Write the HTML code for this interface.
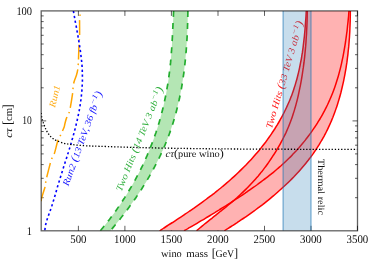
<!DOCTYPE html>
<html lang="en">
<head>
<meta charset="utf-8">
<title>wino mass vs c&#964;</title>
<style>html,body{margin:0;padding:0;background:#fff}svg{display:block;will-change:transform}</style>
</head>
<body>
<svg width="374" height="263" viewBox="0 0 374 263" text-rendering="geometricPrecision">
<defs><clipPath id="clip"><rect x="41.2" y="10.9" width="316.3" height="219.9"/></clipPath></defs>
<filter id="soft" x="0" y="0" width="100%" height="100%" filterUnits="userSpaceOnUse" color-interpolation-filters="sRGB"><feGaussianBlur stdDeviation="0.4"/></filter>
<g filter="url(#soft)">
<rect width="374" height="263" fill="#fff"/>
<path d="M78.4 230.8v-5M78.4 10.9v5M124.9 230.8v-5M124.9 10.9v5M171.4 230.8v-5M171.4 10.9v5M218.0 230.8v-5M218.0 10.9v5M264.5 230.8v-5M264.5 10.9v5M311.0 230.8v-5M311.0 10.9v5M357.5 230.8v-5M357.5 10.9v5M41.2 197.7h2.5M357.5 197.7h-2.5M41.2 178.3h2.5M357.5 178.3h-2.5M41.2 164.6h2.5M357.5 164.6h-2.5M41.2 153.9h2.5M357.5 153.9h-2.5M41.2 145.2h2.5M357.5 145.2h-2.5M41.2 137.9h2.5M357.5 137.9h-2.5M41.2 131.5h2.5M357.5 131.5h-2.5M41.2 125.9h2.5M357.5 125.9h-2.5M41.2 120.9h5.0M357.5 120.9h-5.0M41.2 87.8h2.5M357.5 87.8h-2.5M41.2 68.4h2.5M357.5 68.4h-2.5M41.2 54.7h2.5M357.5 54.7h-2.5M41.2 44.0h2.5M357.5 44.0h-2.5M41.2 35.3h2.5M357.5 35.3h-2.5M41.2 27.9h2.5M357.5 27.9h-2.5M41.2 21.6h2.5M357.5 21.6h-2.5M41.2 15.9h2.5M357.5 15.9h-2.5" stroke="#000" stroke-width="0.9" stroke-opacity="0.7" fill="none"/>
<g clip-path="url(#clip)">
<path d="M173.6 10.9C173.6 11.8 173.4 14.3 173.4 16.0C173.3 17.8 173.2 19.5 173.1 21.2C173.0 22.9 173.0 24.6 172.9 26.4C172.8 28.1 172.7 29.8 172.6 31.5C172.6 33.2 172.5 34.9 172.4 36.7C172.3 38.4 172.2 40.1 172.1 41.8C172.0 43.5 171.9 45.2 171.8 47.0C171.7 48.7 171.6 50.4 171.4 52.1C171.3 53.8 171.2 55.5 171.0 57.2C170.9 59.0 170.7 60.7 170.6 62.4C170.4 64.1 170.2 65.8 170.0 67.5C169.8 69.2 169.6 70.9 169.4 72.6C169.2 74.3 169.0 76.0 168.7 77.7C168.5 79.4 168.2 81.1 168.0 82.8C167.7 84.5 167.4 86.2 167.1 87.9C166.8 89.6 166.5 91.3 166.2 92.9C165.9 94.6 165.6 96.3 165.2 98.0C164.9 99.7 164.5 101.3 164.1 103.0C163.8 104.7 163.4 106.3 163.0 108.0C162.6 109.7 162.2 111.3 161.7 113.0C161.3 114.7 160.8 116.3 160.4 118.0C159.9 119.6 159.5 121.3 159.0 122.9C158.5 124.5 158.0 126.2 157.5 127.8C156.9 129.4 156.4 131.1 155.9 132.7C155.3 134.3 154.7 135.9 154.2 137.6C153.6 139.2 153.0 140.8 152.4 142.4C151.8 144.0 151.2 145.6 150.5 147.2C149.9 148.8 149.3 150.4 148.6 152.0C147.9 153.5 147.3 155.1 146.6 156.7C145.9 158.3 145.2 159.8 144.5 161.4C143.7 163.0 143.0 164.5 142.3 166.1C141.5 167.6 140.8 169.2 140.0 170.7C139.2 172.2 138.4 173.8 137.6 175.3C136.8 176.8 136.0 178.3 135.2 179.8C134.4 181.3 133.5 182.8 132.7 184.3C131.8 185.8 131.0 187.3 130.1 188.8C129.2 190.3 128.3 191.8 127.4 193.2C126.5 194.7 125.6 196.1 124.7 197.6C123.8 199.0 122.9 200.5 121.9 201.9C121.0 203.4 120.0 204.8 119.0 206.2C118.1 207.6 117.1 209.0 116.1 210.4C115.1 211.8 114.1 213.2 113.1 214.6C112.0 216.0 111.0 217.4 110.0 218.7C108.9 220.1 107.9 221.5 106.8 222.8C105.7 224.2 104.7 225.5 103.6 226.8C102.5 228.2 100.8 230.1 100.3 230.8L110.3 230.8C110.9 230.1 112.5 228.2 113.6 226.9C114.7 225.6 115.8 224.3 116.9 222.9C118.0 221.6 119.1 220.2 120.2 218.9C121.2 217.5 122.3 216.2 123.4 214.8C124.4 213.4 125.5 212.1 126.5 210.7C127.6 209.3 128.6 207.9 129.6 206.5C130.7 205.1 131.7 203.7 132.7 202.3C133.7 200.8 134.7 199.4 135.7 198.0C136.6 196.5 137.6 195.1 138.6 193.6C139.6 192.2 140.5 190.7 141.5 189.3C142.4 187.8 143.3 186.3 144.2 184.8C145.2 183.4 146.1 181.9 147.0 180.4C147.9 178.9 148.7 177.4 149.6 175.9C150.5 174.3 151.3 172.8 152.2 171.3C153.0 169.8 153.9 168.2 154.7 166.7C155.5 165.2 156.3 163.6 157.1 162.1C157.8 160.5 158.6 159.0 159.4 157.4C160.1 155.8 160.9 154.3 161.6 152.7C162.3 151.1 163.0 149.5 163.7 147.9C164.4 146.4 165.1 144.8 165.7 143.2C166.4 141.6 167.0 140.0 167.7 138.4C168.3 136.7 168.9 135.1 169.5 133.5C170.1 131.9 170.6 130.3 171.2 128.6C171.7 127.0 172.3 125.4 172.8 123.7C173.3 122.1 173.8 120.4 174.3 118.8C174.8 117.1 175.3 115.5 175.7 113.8C176.2 112.2 176.6 110.5 177.0 108.8C177.4 107.2 177.8 105.5 178.2 103.8C178.6 102.2 179.0 100.5 179.4 98.8C179.7 97.1 180.1 95.4 180.4 93.7C180.7 92.1 181.1 90.4 181.4 88.7C181.7 87.0 182.0 85.3 182.2 83.6C182.5 81.9 182.8 80.2 183.0 78.5C183.3 76.8 183.5 75.0 183.8 73.3C184.0 71.6 184.2 69.9 184.4 68.2C184.6 66.5 184.8 64.7 185.0 63.0C185.2 61.3 185.4 59.6 185.5 57.9C185.7 56.1 185.9 54.4 186.0 52.7C186.2 50.9 186.3 49.2 186.4 47.5C186.5 45.7 186.7 44.0 186.8 42.3C186.9 40.5 187.0 38.8 187.1 37.0C187.2 35.3 187.2 33.6 187.3 31.8C187.4 30.1 187.5 28.3 187.5 26.6C187.6 24.9 187.6 23.1 187.7 21.4C187.7 19.6 187.8 17.9 187.8 16.1C187.8 14.4 187.9 11.8 187.9 10.9Z" fill="#b4e6b4"/>
<path d="M173.6 10.9C173.6 11.8 173.4 14.3 173.4 16.0C173.3 17.8 173.2 19.5 173.1 21.2C173.0 22.9 173.0 24.6 172.9 26.4C172.8 28.1 172.7 29.8 172.6 31.5C172.6 33.2 172.5 34.9 172.4 36.7C172.3 38.4 172.2 40.1 172.1 41.8C172.0 43.5 171.9 45.2 171.8 47.0C171.7 48.7 171.6 50.4 171.4 52.1C171.3 53.8 171.2 55.5 171.0 57.2C170.9 59.0 170.7 60.7 170.6 62.4C170.4 64.1 170.2 65.8 170.0 67.5C169.8 69.2 169.6 70.9 169.4 72.6C169.2 74.3 169.0 76.0 168.7 77.7C168.5 79.4 168.2 81.1 168.0 82.8C167.7 84.5 167.4 86.2 167.1 87.9C166.8 89.6 166.5 91.3 166.2 92.9C165.9 94.6 165.6 96.3 165.2 98.0C164.9 99.7 164.5 101.3 164.1 103.0C163.8 104.7 163.4 106.3 163.0 108.0C162.6 109.7 162.2 111.3 161.7 113.0C161.3 114.7 160.8 116.3 160.4 118.0C159.9 119.6 159.5 121.3 159.0 122.9C158.5 124.5 158.0 126.2 157.5 127.8C156.9 129.4 156.4 131.1 155.9 132.7C155.3 134.3 154.7 135.9 154.2 137.6C153.6 139.2 153.0 140.8 152.4 142.4C151.8 144.0 151.2 145.6 150.5 147.2C149.9 148.8 149.3 150.4 148.6 152.0C147.9 153.5 147.3 155.1 146.6 156.7C145.9 158.3 145.2 159.8 144.5 161.4C143.7 163.0 143.0 164.5 142.3 166.1C141.5 167.6 140.8 169.2 140.0 170.7C139.2 172.2 138.4 173.8 137.6 175.3C136.8 176.8 136.0 178.3 135.2 179.8C134.4 181.3 133.5 182.8 132.7 184.3C131.8 185.8 131.0 187.3 130.1 188.8C129.2 190.3 128.3 191.8 127.4 193.2C126.5 194.7 125.6 196.1 124.7 197.6C123.8 199.0 122.9 200.5 121.9 201.9C121.0 203.4 120.0 204.8 119.0 206.2C118.1 207.6 117.1 209.0 116.1 210.4C115.1 211.8 114.1 213.2 113.1 214.6C112.0 216.0 111.0 217.4 110.0 218.7C108.9 220.1 107.9 221.5 106.8 222.8C105.7 224.2 104.7 225.5 103.6 226.8C102.5 228.2 100.8 230.1 100.3 230.8" fill="none" stroke="#22ad2e" stroke-width="1.7" stroke-dasharray="6 6.15"/>
<path d="M187.9 10.9C187.9 11.8 187.8 14.4 187.8 16.1C187.8 17.9 187.7 19.6 187.7 21.4C187.6 23.1 187.6 24.9 187.5 26.6C187.5 28.3 187.4 30.1 187.3 31.8C187.2 33.6 187.2 35.3 187.1 37.0C187.0 38.8 186.9 40.5 186.8 42.3C186.7 44.0 186.5 45.7 186.4 47.5C186.3 49.2 186.2 50.9 186.0 52.7C185.9 54.4 185.7 56.1 185.5 57.9C185.4 59.6 185.2 61.3 185.0 63.0C184.8 64.7 184.6 66.5 184.4 68.2C184.2 69.9 184.0 71.6 183.8 73.3C183.5 75.0 183.3 76.8 183.0 78.5C182.8 80.2 182.5 81.9 182.2 83.6C182.0 85.3 181.7 87.0 181.4 88.7C181.1 90.4 180.7 92.1 180.4 93.7C180.1 95.4 179.7 97.1 179.4 98.8C179.0 100.5 178.6 102.2 178.2 103.8C177.8 105.5 177.4 107.2 177.0 108.8C176.6 110.5 176.2 112.2 175.7 113.8C175.3 115.5 174.8 117.1 174.3 118.8C173.8 120.4 173.3 122.1 172.8 123.7C172.3 125.4 171.7 127.0 171.2 128.6C170.6 130.3 170.1 131.9 169.5 133.5C168.9 135.1 168.3 136.7 167.7 138.4C167.0 140.0 166.4 141.6 165.7 143.2C165.1 144.8 164.4 146.4 163.7 147.9C163.0 149.5 162.3 151.1 161.6 152.7C160.9 154.3 160.1 155.8 159.4 157.4C158.6 159.0 157.8 160.5 157.1 162.1C156.3 163.6 155.5 165.2 154.7 166.7C153.9 168.2 153.0 169.8 152.2 171.3C151.3 172.8 150.5 174.3 149.6 175.9C148.7 177.4 147.9 178.9 147.0 180.4C146.1 181.9 145.2 183.4 144.2 184.8C143.3 186.3 142.4 187.8 141.5 189.3C140.5 190.7 139.6 192.2 138.6 193.6C137.6 195.1 136.6 196.5 135.7 198.0C134.7 199.4 133.7 200.8 132.7 202.3C131.7 203.7 130.7 205.1 129.6 206.5C128.6 207.9 127.6 209.3 126.5 210.7C125.5 212.1 124.4 213.4 123.4 214.8C122.3 216.2 121.2 217.5 120.2 218.9C119.1 220.2 118.0 221.6 116.9 222.9C115.8 224.3 114.7 225.6 113.6 226.9C112.5 228.2 110.9 230.1 110.3 230.8" fill="none" stroke="#22ad2e" stroke-width="1.7" stroke-dasharray="6 6.15"/>
<path d="M159.6 230.8C160.3 230.3 162.5 229.0 163.9 228.0C165.3 227.1 166.8 226.2 168.2 225.2C169.7 224.3 171.1 223.4 172.5 222.5C174.0 221.5 175.4 220.6 176.8 219.6C178.3 218.7 179.7 217.7 181.1 216.8C182.6 215.8 184.0 214.9 185.4 213.9C186.9 213.0 188.3 212.0 189.7 211.0C191.1 210.1 192.5 209.1 194.0 208.1C195.4 207.1 196.8 206.1 198.2 205.1C199.6 204.1 201.0 203.1 202.4 202.1C203.8 201.1 205.2 200.1 206.6 199.0C207.9 198.0 209.3 197.0 210.7 195.9C212.1 194.9 213.4 193.8 214.8 192.8C216.1 191.7 217.5 190.6 218.8 189.5C220.2 188.5 221.5 187.4 222.8 186.3C224.2 185.2 225.5 184.0 226.8 182.9C228.1 181.8 229.4 180.7 230.7 179.5C232.0 178.4 233.3 177.2 234.5 176.1C235.8 174.9 237.1 173.7 238.3 172.5C239.6 171.3 240.8 170.1 242.0 168.9C243.3 167.7 244.5 166.5 245.7 165.3C246.9 164.0 248.1 162.8 249.2 161.5C250.4 160.3 251.6 159.0 252.7 157.7C253.9 156.4 255.0 155.1 256.1 153.8C257.3 152.5 258.4 151.2 259.5 149.9C260.6 148.5 261.6 147.2 262.7 145.8C263.8 144.5 264.8 143.1 265.9 141.7C266.9 140.3 267.9 138.9 268.9 137.5C269.9 136.1 270.9 134.7 271.8 133.3C272.8 131.8 273.8 130.4 274.7 129.0C275.6 127.5 276.5 126.0 277.4 124.6C278.3 123.1 279.2 121.6 280.0 120.1C280.8 118.6 281.7 117.1 282.5 115.6C283.3 114.1 284.1 112.5 284.8 111.0C285.6 109.5 286.3 107.9 287.0 106.4C287.7 104.8 288.4 103.3 289.1 101.7C289.8 100.1 290.4 98.5 291.0 96.9C291.7 95.4 292.2 93.8 292.8 92.2C293.4 90.6 293.9 88.9 294.4 87.3C295.0 85.7 295.5 84.1 295.9 82.4C296.4 80.8 296.9 79.2 297.3 77.5C297.7 75.9 298.1 74.2 298.5 72.6C298.9 70.9 299.3 69.2 299.6 67.6C300.0 65.9 300.3 64.2 300.6 62.5C301.0 60.9 301.3 59.2 301.6 57.5C301.8 55.8 302.1 54.1 302.4 52.4C302.6 50.7 302.9 49.0 303.1 47.3C303.3 45.6 303.5 43.8 303.7 42.1C303.9 40.4 304.1 38.7 304.3 37.0C304.5 35.2 304.6 33.5 304.8 31.8C305.0 30.1 305.1 28.3 305.2 26.6C305.4 24.8 305.5 23.1 305.6 21.4C305.8 19.6 305.9 17.9 306.0 16.1C306.1 14.4 306.2 11.8 306.3 10.9L349.0 10.9C348.9 11.7 348.7 14.3 348.6 16.0C348.4 17.7 348.2 19.4 348.1 21.1C347.9 22.8 347.7 24.5 347.5 26.2C347.4 27.9 347.2 29.6 347.0 31.3C346.7 33.0 346.5 34.7 346.3 36.4C346.1 38.1 345.8 39.8 345.6 41.5C345.3 43.2 345.1 44.9 344.8 46.5C344.5 48.2 344.2 49.9 343.9 51.6C343.6 53.3 343.3 55.0 343.0 56.6C342.6 58.3 342.3 60.0 341.9 61.6C341.6 63.3 341.2 65.0 340.8 66.6C340.4 68.3 340.0 69.9 339.5 71.6C339.1 73.2 338.7 74.8 338.2 76.5C337.7 78.1 337.2 79.7 336.7 81.3C336.2 83.0 335.7 84.6 335.1 86.2C334.6 87.8 334.0 89.4 333.4 90.9C332.8 92.5 332.2 94.1 331.5 95.7C330.9 97.3 330.2 98.8 329.5 100.4C328.8 101.9 328.1 103.5 327.4 105.0C326.6 106.5 325.9 108.1 325.1 109.6C324.3 111.1 323.5 112.6 322.7 114.1C321.9 115.6 321.0 117.0 320.2 118.5C319.3 120.0 318.4 121.4 317.5 122.9C316.6 124.3 315.7 125.8 314.7 127.2C313.8 128.6 312.8 130.0 311.8 131.4C310.9 132.8 309.9 134.2 308.8 135.5C307.8 136.9 306.8 138.3 305.7 139.6C304.7 140.9 303.6 142.3 302.5 143.6C301.4 144.9 300.3 146.2 299.2 147.5C298.1 148.7 296.9 150.0 295.8 151.3C294.6 152.5 293.5 153.7 292.3 154.9C291.1 156.2 289.9 157.4 288.7 158.5C287.5 159.7 286.3 160.9 285.1 162.0C283.8 163.2 282.6 164.3 281.3 165.5C280.0 166.6 278.8 167.7 277.5 168.8C276.2 169.9 274.9 171.0 273.6 172.1C272.3 173.1 271.0 174.2 269.7 175.2C268.3 176.3 267.0 177.3 265.6 178.4C264.3 179.4 262.9 180.4 261.6 181.4C260.2 182.5 258.8 183.5 257.5 184.5C256.1 185.5 254.7 186.5 253.3 187.4C251.9 188.4 250.5 189.4 249.1 190.4C247.7 191.4 246.3 192.3 244.9 193.3C243.4 194.3 242.0 195.2 240.6 196.2C239.2 197.1 237.7 198.1 236.3 199.0C234.8 200.0 233.4 200.9 232.0 201.8C230.5 202.8 229.1 203.7 227.6 204.6C226.2 205.6 224.7 206.5 223.2 207.4C221.8 208.3 220.3 209.2 218.9 210.1C217.4 211.0 215.9 211.9 214.5 212.8C213.0 213.7 211.6 214.6 210.1 215.5C208.6 216.4 207.2 217.3 205.7 218.1C204.3 219.0 202.8 219.9 201.3 220.7C199.9 221.6 198.4 222.5 197.0 223.3C195.5 224.2 194.1 225.0 192.6 225.8C191.2 226.7 189.7 227.5 188.3 228.3C186.9 229.2 184.7 230.4 184.0 230.8Z" fill="#ffb2b2"/>
<path d="M196.5 230.8C197.1 230.3 199.1 228.6 200.4 227.5C201.7 226.4 203.0 225.4 204.3 224.3C205.6 223.2 207.0 222.1 208.3 221.1C209.7 220.0 211.0 218.9 212.4 217.8C213.7 216.7 215.1 215.7 216.4 214.6C217.8 213.5 219.2 212.4 220.5 211.3C221.9 210.2 223.2 209.2 224.6 208.1C225.9 207.0 227.3 205.9 228.6 204.7C230.0 203.6 231.3 202.5 232.6 201.4C233.9 200.3 235.3 199.1 236.6 198.0C237.9 196.8 239.2 195.7 240.4 194.5C241.7 193.3 243.0 192.1 244.2 190.9C245.4 189.7 246.7 188.5 247.9 187.3C249.1 186.1 250.3 184.8 251.4 183.6C252.6 182.3 253.8 181.1 254.9 179.8C256.0 178.5 257.2 177.2 258.3 175.9C259.3 174.6 260.4 173.3 261.5 171.9C262.6 170.6 263.6 169.2 264.6 167.9C265.7 166.5 266.7 165.1 267.7 163.7C268.7 162.3 269.6 160.9 270.6 159.5C271.6 158.1 272.5 156.7 273.4 155.2C274.4 153.8 275.3 152.3 276.2 150.8C277.1 149.4 278.0 147.9 278.8 146.4C279.7 144.9 280.5 143.4 281.3 141.8C282.2 140.3 283.0 138.8 283.7 137.2C284.5 135.7 285.3 134.1 286.0 132.6C286.7 131.0 287.4 129.4 288.1 127.8C288.8 126.3 289.4 124.7 290.0 123.1C290.6 121.4 291.2 119.8 291.8 118.2C292.4 116.6 292.9 115.0 293.4 113.3C294.0 111.7 294.5 110.0 294.9 108.4C295.4 106.7 295.9 105.1 296.3 103.4C296.8 101.7 297.2 100.1 297.6 98.4C298.0 96.7 298.4 95.0 298.7 93.3C299.1 91.6 299.5 89.9 299.8 88.2C300.2 86.5 300.5 84.8 300.8 83.1C301.1 81.4 301.4 79.7 301.7 78.0C302.0 76.3 302.3 74.6 302.5 72.8C302.8 71.1 303.0 69.4 303.3 67.7C303.5 66.0 303.7 64.2 304.0 62.5C304.2 60.8 304.4 59.0 304.6 57.3C304.8 55.6 304.9 53.8 305.1 52.1C305.3 50.4 305.4 48.7 305.6 46.9C305.7 45.2 305.9 43.5 306.0 41.7C306.1 40.0 306.2 38.3 306.3 36.6C306.5 34.8 306.6 33.1 306.6 31.4C306.7 29.7 306.8 27.9 306.9 26.2C307.0 24.5 307.0 22.8 307.1 21.1C307.1 19.4 307.2 17.7 307.2 16.0C307.2 14.3 307.3 11.7 307.3 10.9L350.3 10.9C350.3 11.7 350.3 14.3 350.3 16.0C350.2 17.7 350.2 19.4 350.2 21.1C350.1 22.8 350.1 24.5 350.0 26.2C349.9 27.9 349.9 29.7 349.8 31.4C349.7 33.1 349.6 34.8 349.5 36.5C349.4 38.3 349.2 40.0 349.1 41.7C349.0 43.5 348.8 45.2 348.7 46.9C348.5 48.6 348.3 50.4 348.1 52.1C348.0 53.8 347.8 55.5 347.5 57.3C347.3 59.0 347.1 60.7 346.9 62.4C346.6 64.2 346.3 65.9 346.1 67.6C345.8 69.3 345.5 71.0 345.2 72.7C344.9 74.4 344.6 76.2 344.2 77.9C343.9 79.6 343.6 81.3 343.2 82.9C342.8 84.6 342.4 86.3 342.0 88.0C341.6 89.7 341.2 91.4 340.8 93.0C340.3 94.7 339.9 96.4 339.4 98.0C338.9 99.7 338.4 101.3 337.9 103.0C337.4 104.6 336.9 106.3 336.3 107.9C335.8 109.5 335.2 111.1 334.6 112.7C334.0 114.3 333.4 115.9 332.8 117.5C332.1 119.1 331.5 120.7 330.8 122.3C330.1 123.8 329.4 125.4 328.7 126.9C328.0 128.5 327.3 130.0 326.5 131.5C325.7 133.0 324.9 134.6 324.1 136.1C323.3 137.5 322.5 139.0 321.6 140.5C320.8 142.0 319.9 143.4 319.0 144.9C318.1 146.3 317.2 147.7 316.3 149.1C315.3 150.6 314.3 152.0 313.4 153.4C312.4 154.7 311.4 156.1 310.4 157.5C309.3 158.8 308.3 160.2 307.2 161.5C306.2 162.9 305.1 164.2 304.0 165.5C302.9 166.8 301.8 168.1 300.6 169.4C299.5 170.7 298.4 172.0 297.2 173.2C296.0 174.5 294.8 175.8 293.7 177.0C292.5 178.2 291.2 179.5 290.0 180.7C288.8 181.9 287.6 183.1 286.3 184.3C285.1 185.5 283.8 186.7 282.5 187.8C281.2 189.0 279.9 190.2 278.6 191.3C277.3 192.5 276.0 193.6 274.7 194.7C273.4 195.8 272.1 197.0 270.7 198.1C269.4 199.2 268.0 200.3 266.7 201.3C265.3 202.4 263.9 203.5 262.6 204.6C261.2 205.6 259.8 206.7 258.4 207.7C257.0 208.7 255.6 209.8 254.2 210.8C252.8 211.8 251.4 212.8 250.0 213.8C248.6 214.8 247.2 215.8 245.8 216.8C244.4 217.8 242.9 218.7 241.5 219.7C240.1 220.7 238.6 221.6 237.2 222.6C235.8 223.5 234.3 224.4 232.9 225.4C231.5 226.3 230.0 227.2 228.6 228.1C227.2 229.0 225.0 230.4 224.3 230.8Z" fill="#ffb2b2"/>
<path d="M159.6 230.8C160.3 230.3 162.5 229.0 163.9 228.0C165.3 227.1 166.8 226.2 168.2 225.2C169.7 224.3 171.1 223.4 172.5 222.5C174.0 221.5 175.4 220.6 176.8 219.6C178.3 218.7 179.7 217.7 181.1 216.8C182.6 215.8 184.0 214.9 185.4 213.9C186.9 213.0 188.3 212.0 189.7 211.0C191.1 210.1 192.5 209.1 194.0 208.1C195.4 207.1 196.8 206.1 198.2 205.1C199.6 204.1 201.0 203.1 202.4 202.1C203.8 201.1 205.2 200.1 206.6 199.0C207.9 198.0 209.3 197.0 210.7 195.9C212.1 194.9 213.4 193.8 214.8 192.8C216.1 191.7 217.5 190.6 218.8 189.5C220.2 188.5 221.5 187.4 222.8 186.3C224.2 185.2 225.5 184.0 226.8 182.9C228.1 181.8 229.4 180.7 230.7 179.5C232.0 178.4 233.3 177.2 234.5 176.1C235.8 174.9 237.1 173.7 238.3 172.5C239.6 171.3 240.8 170.1 242.0 168.9C243.3 167.7 244.5 166.5 245.7 165.3C246.9 164.0 248.1 162.8 249.2 161.5C250.4 160.3 251.6 159.0 252.7 157.7C253.9 156.4 255.0 155.1 256.1 153.8C257.3 152.5 258.4 151.2 259.5 149.9C260.6 148.5 261.6 147.2 262.7 145.8C263.8 144.5 264.8 143.1 265.9 141.7C266.9 140.3 267.9 138.9 268.9 137.5C269.9 136.1 270.9 134.7 271.8 133.3C272.8 131.8 273.8 130.4 274.7 129.0C275.6 127.5 276.5 126.0 277.4 124.6C278.3 123.1 279.2 121.6 280.0 120.1C280.8 118.6 281.7 117.1 282.5 115.6C283.3 114.1 284.1 112.5 284.8 111.0C285.6 109.5 286.3 107.9 287.0 106.4C287.7 104.8 288.4 103.3 289.1 101.7C289.8 100.1 290.4 98.5 291.0 96.9C291.7 95.4 292.2 93.8 292.8 92.2C293.4 90.6 293.9 88.9 294.4 87.3C295.0 85.7 295.5 84.1 295.9 82.4C296.4 80.8 296.9 79.2 297.3 77.5C297.7 75.9 298.1 74.2 298.5 72.6C298.9 70.9 299.3 69.2 299.6 67.6C300.0 65.9 300.3 64.2 300.6 62.5C301.0 60.9 301.3 59.2 301.6 57.5C301.8 55.8 302.1 54.1 302.4 52.4C302.6 50.7 302.9 49.0 303.1 47.3C303.3 45.6 303.5 43.8 303.7 42.1C303.9 40.4 304.1 38.7 304.3 37.0C304.5 35.2 304.6 33.5 304.8 31.8C305.0 30.1 305.1 28.3 305.2 26.6C305.4 24.8 305.5 23.1 305.6 21.4C305.8 19.6 305.9 17.9 306.0 16.1C306.1 14.4 306.2 11.8 306.3 10.9" fill="none" stroke="#ff0000" stroke-width="1.5"/>
<path d="M184.0 230.8C184.7 230.4 186.9 229.2 188.3 228.3C189.7 227.5 191.2 226.7 192.6 225.8C194.1 225.0 195.5 224.2 197.0 223.3C198.4 222.5 199.9 221.6 201.3 220.7C202.8 219.9 204.3 219.0 205.7 218.1C207.2 217.3 208.6 216.4 210.1 215.5C211.6 214.6 213.0 213.7 214.5 212.8C215.9 211.9 217.4 211.0 218.9 210.1C220.3 209.2 221.8 208.3 223.2 207.4C224.7 206.5 226.2 205.6 227.6 204.6C229.1 203.7 230.5 202.8 232.0 201.8C233.4 200.9 234.8 200.0 236.3 199.0C237.7 198.1 239.2 197.1 240.6 196.2C242.0 195.2 243.4 194.3 244.9 193.3C246.3 192.3 247.7 191.4 249.1 190.4C250.5 189.4 251.9 188.4 253.3 187.4C254.7 186.5 256.1 185.5 257.5 184.5C258.8 183.5 260.2 182.5 261.6 181.4C262.9 180.4 264.3 179.4 265.6 178.4C267.0 177.3 268.3 176.3 269.7 175.2C271.0 174.2 272.3 173.1 273.6 172.1C274.9 171.0 276.2 169.9 277.5 168.8C278.8 167.7 280.0 166.6 281.3 165.5C282.6 164.3 283.8 163.2 285.1 162.0C286.3 160.9 287.5 159.7 288.7 158.5C289.9 157.4 291.1 156.2 292.3 154.9C293.5 153.7 294.6 152.5 295.8 151.3C296.9 150.0 298.1 148.7 299.2 147.5C300.3 146.2 301.4 144.9 302.5 143.6C303.6 142.3 304.7 140.9 305.7 139.6C306.8 138.3 307.8 136.9 308.8 135.5C309.9 134.2 310.9 132.8 311.8 131.4C312.8 130.0 313.8 128.6 314.7 127.2C315.7 125.8 316.6 124.3 317.5 122.9C318.4 121.4 319.3 120.0 320.2 118.5C321.0 117.0 321.9 115.6 322.7 114.1C323.5 112.6 324.3 111.1 325.1 109.6C325.9 108.1 326.6 106.5 327.4 105.0C328.1 103.5 328.8 101.9 329.5 100.4C330.2 98.8 330.9 97.3 331.5 95.7C332.2 94.1 332.8 92.5 333.4 90.9C334.0 89.4 334.6 87.8 335.1 86.2C335.7 84.6 336.2 83.0 336.7 81.3C337.2 79.7 337.7 78.1 338.2 76.5C338.7 74.8 339.1 73.2 339.5 71.6C340.0 69.9 340.4 68.3 340.8 66.6C341.2 65.0 341.6 63.3 341.9 61.6C342.3 60.0 342.6 58.3 343.0 56.6C343.3 55.0 343.6 53.3 343.9 51.6C344.2 49.9 344.5 48.2 344.8 46.5C345.1 44.9 345.3 43.2 345.6 41.5C345.8 39.8 346.1 38.1 346.3 36.4C346.5 34.7 346.7 33.0 347.0 31.3C347.2 29.6 347.4 27.9 347.5 26.2C347.7 24.5 347.9 22.8 348.1 21.1C348.2 19.4 348.4 17.7 348.6 16.0C348.7 14.3 348.9 11.7 349.0 10.9" fill="none" stroke="#ff0000" stroke-width="1.5"/>
<path d="M196.5 230.8C197.1 230.3 199.1 228.6 200.4 227.5C201.7 226.4 203.0 225.4 204.3 224.3C205.6 223.2 207.0 222.1 208.3 221.1C209.7 220.0 211.0 218.9 212.4 217.8C213.7 216.7 215.1 215.7 216.4 214.6C217.8 213.5 219.2 212.4 220.5 211.3C221.9 210.2 223.2 209.2 224.6 208.1C225.9 207.0 227.3 205.9 228.6 204.7C230.0 203.6 231.3 202.5 232.6 201.4C233.9 200.3 235.3 199.1 236.6 198.0C237.9 196.8 239.2 195.7 240.4 194.5C241.7 193.3 243.0 192.1 244.2 190.9C245.4 189.7 246.7 188.5 247.9 187.3C249.1 186.1 250.3 184.8 251.4 183.6C252.6 182.3 253.8 181.1 254.9 179.8C256.0 178.5 257.2 177.2 258.3 175.9C259.3 174.6 260.4 173.3 261.5 171.9C262.6 170.6 263.6 169.2 264.6 167.9C265.7 166.5 266.7 165.1 267.7 163.7C268.7 162.3 269.6 160.9 270.6 159.5C271.6 158.1 272.5 156.7 273.4 155.2C274.4 153.8 275.3 152.3 276.2 150.8C277.1 149.4 278.0 147.9 278.8 146.4C279.7 144.9 280.5 143.4 281.3 141.8C282.2 140.3 283.0 138.8 283.7 137.2C284.5 135.7 285.3 134.1 286.0 132.6C286.7 131.0 287.4 129.4 288.1 127.8C288.8 126.3 289.4 124.7 290.0 123.1C290.6 121.4 291.2 119.8 291.8 118.2C292.4 116.6 292.9 115.0 293.4 113.3C294.0 111.7 294.5 110.0 294.9 108.4C295.4 106.7 295.9 105.1 296.3 103.4C296.8 101.7 297.2 100.1 297.6 98.4C298.0 96.7 298.4 95.0 298.7 93.3C299.1 91.6 299.5 89.9 299.8 88.2C300.2 86.5 300.5 84.8 300.8 83.1C301.1 81.4 301.4 79.7 301.7 78.0C302.0 76.3 302.3 74.6 302.5 72.8C302.8 71.1 303.0 69.4 303.3 67.7C303.5 66.0 303.7 64.2 304.0 62.5C304.2 60.8 304.4 59.0 304.6 57.3C304.8 55.6 304.9 53.8 305.1 52.1C305.3 50.4 305.4 48.7 305.6 46.9C305.7 45.2 305.9 43.5 306.0 41.7C306.1 40.0 306.2 38.3 306.3 36.6C306.5 34.8 306.6 33.1 306.6 31.4C306.7 29.7 306.8 27.9 306.9 26.2C307.0 24.5 307.0 22.8 307.1 21.1C307.1 19.4 307.2 17.7 307.2 16.0C307.2 14.3 307.3 11.7 307.3 10.9" fill="none" stroke="#ff0000" stroke-width="1.5"/>
<path d="M224.3 230.8C225.0 230.4 227.2 229.0 228.6 228.1C230.0 227.2 231.5 226.3 232.9 225.4C234.3 224.4 235.8 223.5 237.2 222.6C238.6 221.6 240.1 220.7 241.5 219.7C242.9 218.7 244.4 217.8 245.8 216.8C247.2 215.8 248.6 214.8 250.0 213.8C251.4 212.8 252.8 211.8 254.2 210.8C255.6 209.8 257.0 208.7 258.4 207.7C259.8 206.7 261.2 205.6 262.6 204.6C263.9 203.5 265.3 202.4 266.7 201.3C268.0 200.3 269.4 199.2 270.7 198.1C272.1 197.0 273.4 195.8 274.7 194.7C276.0 193.6 277.3 192.5 278.6 191.3C279.9 190.2 281.2 189.0 282.5 187.8C283.8 186.7 285.1 185.5 286.3 184.3C287.6 183.1 288.8 181.9 290.0 180.7C291.2 179.5 292.5 178.2 293.7 177.0C294.8 175.8 296.0 174.5 297.2 173.2C298.4 172.0 299.5 170.7 300.6 169.4C301.8 168.1 302.9 166.8 304.0 165.5C305.1 164.2 306.2 162.9 307.2 161.5C308.3 160.2 309.3 158.8 310.4 157.5C311.4 156.1 312.4 154.7 313.4 153.4C314.3 152.0 315.3 150.6 316.3 149.1C317.2 147.7 318.1 146.3 319.0 144.9C319.9 143.4 320.8 142.0 321.6 140.5C322.5 139.0 323.3 137.5 324.1 136.1C324.9 134.6 325.7 133.0 326.5 131.5C327.3 130.0 328.0 128.5 328.7 126.9C329.4 125.4 330.1 123.8 330.8 122.3C331.5 120.7 332.1 119.1 332.8 117.5C333.4 115.9 334.0 114.3 334.6 112.7C335.2 111.1 335.8 109.5 336.3 107.9C336.9 106.3 337.4 104.6 337.9 103.0C338.4 101.3 338.9 99.7 339.4 98.0C339.9 96.4 340.3 94.7 340.8 93.0C341.2 91.4 341.6 89.7 342.0 88.0C342.4 86.3 342.8 84.6 343.2 82.9C343.6 81.3 343.9 79.6 344.2 77.9C344.6 76.2 344.9 74.4 345.2 72.7C345.5 71.0 345.8 69.3 346.1 67.6C346.3 65.9 346.6 64.2 346.9 62.4C347.1 60.7 347.3 59.0 347.5 57.3C347.8 55.5 348.0 53.8 348.1 52.1C348.3 50.4 348.5 48.6 348.7 46.9C348.8 45.2 349.0 43.5 349.1 41.7C349.2 40.0 349.4 38.3 349.5 36.5C349.6 34.8 349.7 33.1 349.8 31.4C349.9 29.7 349.9 27.9 350.0 26.2C350.1 24.5 350.1 22.8 350.2 21.1C350.2 19.4 350.2 17.7 350.3 16.0C350.3 14.3 350.3 11.7 350.3 10.9" fill="none" stroke="#ff0000" stroke-width="1.5"/>
</g>
<text font-family="'Liberation Serif', 'DejaVu Serif', serif" font-size="9.4" fill-opacity="0.9" font-style="italic" transform="translate(271.7 129.3) rotate(-73.6)" fill="#ff0000" textLength="111.7" lengthAdjust="spacingAndGlyphs">Two Hits <tspan font-size="11.2">(</tspan>33 TeV 3 ab<tspan font-size="7.4" dy="-3.5">&#8722;1</tspan><tspan font-size="11.2" dy="3.5">)</tspan></text>
<g clip-path="url(#clip)">
<rect x="283.1" y="10.9" width="27.9" height="219.9" fill="#1f77b4" fill-opacity="0.25"/>
<path d="M283.1 10.9V230.8M311.0 10.9V230.8" stroke="#1f77b4" stroke-opacity="0.55" stroke-width="1.3" fill="none"/>
<path d="M80.1 14.5C80.0 15.4 79.7 16.7 79.6 20.0C79.5 23.3 79.7 30.3 79.6 34.5C79.5 38.7 79.2 40.9 79.0 45.0C78.8 49.1 78.6 56.1 78.5 59.4C78.4 62.7 78.3 62.8 78.2 64.6C78.1 66.3 78.0 68.2 77.7 69.9C77.4 71.6 77.1 73.0 76.5 75.0C75.9 77.0 74.6 79.7 74.0 82.0C73.4 84.3 73.2 86.6 73.0 88.6C72.8 90.6 73.0 90.7 72.5 94.2C72.0 97.7 70.6 106.2 70.0 109.4C69.4 112.6 69.4 111.8 68.8 113.3C68.2 114.8 67.2 116.4 66.5 118.1C65.8 119.8 65.3 122.2 64.9 123.7C64.5 125.2 64.6 125.8 64.1 127.2C63.6 128.6 62.7 130.5 62.0 132.0C61.3 133.5 60.8 134.7 60.1 136.0C59.4 137.3 59.0 137.0 58.0 140.1C57.0 143.2 55.2 151.3 54.1 154.5C53.0 157.7 52.2 157.6 51.6 159.0C51.0 160.4 51.2 159.8 50.4 162.8C49.6 165.9 47.5 174.0 46.7 177.3C45.9 180.7 45.9 181.2 45.6 182.9C45.3 184.6 45.5 185.2 44.8 187.7C44.1 190.2 42.2 195.8 41.6 198.1C41.0 200.4 41.3 201.0 41.2 201.6" fill="none" stroke="#ffa500" stroke-width="1.5" stroke-dasharray="1.5 4.2 14.7 4.2"/>
<path d="M73.4 10.9C73.5 11.8 74.0 14.3 74.3 16.0C74.6 17.7 74.9 19.4 75.2 21.1C75.5 22.8 75.8 24.5 76.2 26.2C76.5 27.9 76.8 29.6 77.1 31.3C77.4 33.0 77.7 34.7 78.0 36.4C78.3 38.1 78.6 39.8 78.9 41.5C79.2 43.2 79.5 44.9 79.7 46.6C80.0 48.3 80.2 50.0 80.5 51.7C80.7 53.4 80.9 55.1 81.1 56.8C81.3 58.5 81.5 60.1 81.7 61.8C81.8 63.5 82.0 65.2 82.1 66.9C82.2 68.6 82.3 70.3 82.3 72.0C82.4 73.7 82.4 75.3 82.4 77.0C82.4 78.7 82.4 80.4 82.4 82.1C82.3 83.8 82.2 85.5 82.1 87.1C82.0 88.8 81.9 90.5 81.8 92.2C81.6 93.9 81.4 95.5 81.2 97.2C81.0 98.9 80.8 100.6 80.6 102.3C80.3 103.9 80.1 105.6 79.8 107.3C79.5 109.0 79.2 110.6 78.9 112.3C78.5 114.0 78.2 115.6 77.8 117.3C77.5 119.0 77.1 120.7 76.7 122.3C76.3 124.0 75.9 125.7 75.5 127.3C75.1 129.0 74.6 130.7 74.2 132.3C73.7 134.0 73.3 135.6 72.8 137.3C72.3 139.0 71.9 140.6 71.4 142.3C70.9 143.9 70.4 145.6 69.9 147.3C69.4 148.9 68.9 150.6 68.4 152.2C67.8 153.9 67.3 155.5 66.8 157.2C66.3 158.8 65.7 160.5 65.2 162.1C64.7 163.8 64.2 165.4 63.6 167.1C63.1 168.7 62.6 170.4 62.1 172.0C61.6 173.7 61.0 175.3 60.5 177.0C60.0 178.6 59.5 180.2 59.0 181.9C58.5 183.5 58.0 185.2 57.5 186.8C57.0 188.4 56.6 190.1 56.1 191.7C55.6 193.4 55.2 195.0 54.7 196.6C54.2 198.3 53.8 199.9 53.2 201.5C52.7 203.2 52.2 204.8 51.7 206.4C51.1 208.1 50.5 209.7 50.0 211.3C49.4 212.9 48.8 214.6 48.2 216.2C47.7 217.8 47.1 219.4 46.6 221.1C46.2 222.7 45.7 224.3 45.4 225.9C45.1 227.6 44.9 230.0 44.8 230.8" fill="none" stroke="#0000ff" stroke-width="1.6" stroke-dasharray="2.3 2.65"/>
<path d="M41.3 113.0C41.3 113.5 41.4 115.0 41.5 116.0C41.6 117.0 41.8 118.0 42.0 119.0C42.2 120.0 42.7 121.2 43.0 122.0C43.3 122.8 43.4 123.1 43.7 123.9C44.0 124.8 44.6 126.1 45.0 127.1C45.4 128.1 45.6 128.9 46.0 129.8C46.4 130.7 47.0 131.5 47.6 132.5C48.2 133.5 49.1 134.8 49.8 135.7C50.5 136.5 50.9 136.8 51.9 137.6C52.9 138.4 54.0 139.4 56.0 140.4C58.0 141.4 61.4 142.6 64.1 143.3C66.8 144.0 68.6 144.2 72.1 144.6C75.6 145.0 80.4 145.4 84.9 145.7C89.5 146.0 90.2 146.0 99.4 146.3C108.6 146.6 125.2 147.2 140.0 147.6C154.8 148.0 172.2 148.3 188.0 148.5C203.8 148.7 216.3 148.9 235.0 149.0C253.7 149.1 279.6 149.2 300.0 149.3C320.4 149.4 347.9 149.3 357.5 149.3" fill="none" stroke="#000" stroke-width="1.3" stroke-dasharray="1.3 1.85"/>
</g>
<rect x="41.2" y="10.9" width="316.3" height="219.9" fill="none" stroke="#000" stroke-width="1.3" stroke-opacity="0.62"/>
<g font-family="'Liberation Serif', 'DejaVu Serif', serif" font-size="10.4" fill="#111">
<text x="70.3" y="243.1" font-size="11.7" textLength="16.2" lengthAdjust="spacingAndGlyphs">500</text>
<text x="114.1" y="243.1" font-size="11.7" textLength="21.7" lengthAdjust="spacingAndGlyphs">1000</text>
<text x="160.6" y="243.1" font-size="11.7" textLength="21.7" lengthAdjust="spacingAndGlyphs">1500</text>
<text x="207.1" y="243.1" font-size="11.7" textLength="21.7" lengthAdjust="spacingAndGlyphs">2000</text>
<text x="253.6" y="243.1" font-size="11.7" textLength="21.7" lengthAdjust="spacingAndGlyphs">2500</text>
<text x="300.1" y="243.1" font-size="11.7" textLength="21.7" lengthAdjust="spacingAndGlyphs">3000</text>
<text x="346.6" y="243.1" font-size="11.7" textLength="21.7" lengthAdjust="spacingAndGlyphs">3500</text>
<text x="16.4" y="14.7" font-size="11.7" textLength="15.7" lengthAdjust="spacingAndGlyphs">100</text>
<text x="22.2" y="124.3" font-size="11.7" textLength="9.5" lengthAdjust="spacingAndGlyphs">10</text>
<text x="26.8" y="234.5" font-size="11.7" textLength="5.2" lengthAdjust="spacingAndGlyphs">1</text>
<text y="256.6"><tspan x="161.0" textLength="20.8" lengthAdjust="spacingAndGlyphs">wino</tspan> <tspan x="186.2" textLength="21.9" lengthAdjust="spacingAndGlyphs">mass</tspan> <tspan x="211.8" font-size="12.4">[</tspan><tspan x="215.6" textLength="18.6" lengthAdjust="spacingAndGlyphs">GeV</tspan><tspan x="234.1" font-size="12.4">]</tspan></text>
<text transform="translate(12.3 0) rotate(-90)"><tspan x="-137.8" font-style="italic" textLength="9.6" lengthAdjust="spacingAndGlyphs">c&#964;</tspan> <tspan x="-125.0" font-size="13.6">[</tspan><tspan x="-121.0" textLength="13.2" lengthAdjust="spacingAndGlyphs">cm</tspan><tspan x="-108.8" font-size="13.6">]</tspan></text>
</g>
<g font-family="'Liberation Serif', 'DejaVu Serif', serif" font-size="9.6" fill="#111">
<text x="165.6" y="157.1" textLength="58.2" lengthAdjust="spacingAndGlyphs"><tspan font-style="italic">c&#964;</tspan><tspan font-size="11.2">(</tspan>pure wino<tspan font-size="11.2">)</tspan></text>
<text transform="translate(317.9 158.8) rotate(90)" textLength="56.3" lengthAdjust="spacingAndGlyphs">Thermal relic</text>
</g>
<g font-family="'Liberation Serif', 'DejaVu Serif', serif" font-size="9.4" font-style="italic" fill-opacity="0.9">
<text transform="translate(54.9 107.9) rotate(-76.5)" fill="#ffa500" textLength="22.6" lengthAdjust="spacingAndGlyphs">Run1</text>
<text transform="translate(68.2 186.6) rotate(-70)" fill="#0000ff" textLength="100" lengthAdjust="spacingAndGlyphs">Run2 <tspan font-size="11.2">(</tspan>13 TeV, 36 fb<tspan font-size="7.4" dy="-3.5">&#8722;1</tspan><tspan font-size="11.2" dy="3.5">)</tspan></text>
<text transform="translate(121.5 191.9) rotate(-68)" fill="#1fa92d" textLength="111.6" lengthAdjust="spacingAndGlyphs">Two Hits <tspan font-size="11.2">(</tspan>14 TeV 3 ab<tspan font-size="7.4" dy="-3.5">&#8722;1</tspan><tspan font-size="11.2" dy="3.5">)</tspan></text>
</g>
</g>
</svg>
</body>
</html>
